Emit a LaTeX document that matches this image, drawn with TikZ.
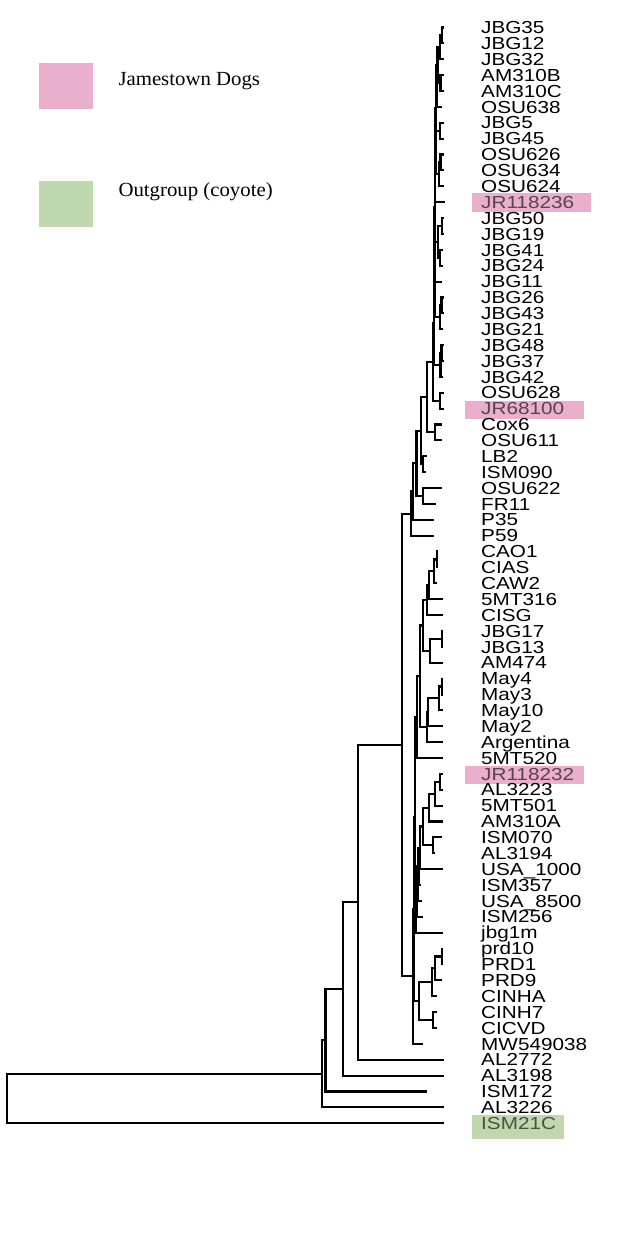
\documentclass[tikz,border=0pt]{standalone}
\usepackage{fontspec}
\newfontfamily\tipfont[FakeStretch=1.19]{Liberation Sans}
\newfontfamily\keyfont[FakeStretch=1.04]{Liberation Serif}
\usetikzlibrary{positioning, calc}

\definecolor{jpink}{RGB}{233,175,204}
\definecolor{jgreen}{RGB}{191,216,176}
\colorlet{jpinktxt}{black!62!jpink}
\colorlet{jgreentxt}{black!62!jgreen}

% join two children at a parent placed at x = #2
\newcommand{\clade}[4]{%
  \coordinate (tmp) at ($(#3)!0.5!(#4)$);
  \coordinate (#1) at (#2,0 |- tmp);
  \draw[branch] (#3) -| (#1) |- (#4);
}

\begin{document}
\begin{tikzpicture}[
    x=1pt, y=-1pt,
    branch/.style={line width=2.1pt, black},
    tiplab/.style={font=\tipfont\fontsize{17.4}{17.4}\selectfont, anchor=base west, inner sep=0pt},
    keytext/.style={font=\keyfont\fontsize{20}{20}\selectfont, anchor=base west, inner sep=0pt},
    keybox/.style={rectangle, minimum width=54pt, minimum height=46pt, inner sep=0pt},
    hlbox/.style={rectangle, inner sep=0pt}
  ]
  \fill[white] (0,0) rectangle (626,1236);
  \useasboundingbox (0,0) rectangle (626,1236);

  % Legend
  \node[keybox, fill=jpink] (dogkey) at (66,86) {};
  \node[keybox, fill=jgreen, below=72pt of dogkey] (coykey) {};
  \node[keytext] (dogtxt) at (118.3,85.7) {Jamestown Dogs};
  \node[keytext] (coytxt) at (118.3,196.7) {Outgroup (coyote)};

  % Highlighted tips
  \node[hlbox, fill=jpink, minimum width=119pt, minimum height=19pt] (hl12) at (531.5,202.5) {};
  \node[hlbox, fill=jpink, minimum width=119pt, minimum height=18pt] (hl25) at (524.5,410.3) {};
  \node[hlbox, fill=jpink, minimum width=119pt, minimum height=18pt] (hl48) at (524.5,775) {};
  \node[hlbox, fill=jgreen, minimum width=92pt, minimum height=24pt] (hl70) at (518,1127) {};

  % Tips and labels
  \foreach \lab/\tx [count=\i] in {
      JBG35/443.5, JBG12/443.5, JBG32/443.5, AM310B/443.5, AM310C/443.5,
      OSU638/442, JBG5/443.5, JBG45/443.5, OSU626/443.5, OSU634/443.5,
      OSU624/443.5, {\color{jpinktxt}JR118236}/445, JBG50/443.5, JBG19/443.5, JBG41/443,
      JBG24/443, JBG11/442, JBG26/443.5, JBG43/443.5, JBG21/442.5,
      JBG48/443.5, JBG37/443.5, JBG42/443, OSU628/443.5, {\color{jpinktxt}JR68100}/443.5,
      Cox6/442, OSU611/442, LB2/426.5, ISM090/425.5, OSU622/442,
      FR11/436, P35/434, P59/434, CAO1/437.5, CIAS/437.5,
      CAW2/437, 5MT316/443.3, CISG/443.3, JBG17/443.3, JBG13/443.3,
      AM474/443.3, May4/443.3, May3/443.3, May10/443.3, May2/443.3,
      Argentina/443.3, 5MT520/443.3, {\color{jpinktxt}JR118232}/443.3, AL3223/443.3, 5MT501/443.3,
      AM310A/443.3, ISM070/442, AL3194/435, USA\_1000/443.3, ISM357/421,
      USA\_8500/421.5, ISM256/423, jbg1m/443.3, prd10/443, PRD1/443,
      PRD9/441.7, CINHA/436.7, CINH7/437, CICVD/437, MW549038/422.7,
      AL2772/444, AL3198/444, ISM172/427, AL3226/444, {\color{jgreentxt}ISM21C}/444}
  {
    \pgfmathsetmacro{\ty}{27.5+(\i-1)*15.88}
    \coordinate (t\i) at (\tx,\ty);
    \node[tiplab] (l\i) at (481,\ty+6.2) {\lab};
  }

  % Upper clade
  \clade{c1}{441.7}{t1}{t2}
  \clade{c2}{440}{c1}{t3}
  \clade{c3}{440.5}{t4}{t5}
  \clade{u1}{437.5}{c2}{c3}
  \clade{u2}{436.5}{u1}{t6}
  \clade{c6}{440}{t7}{t8}
  \clade{u3}{436}{u2}{c6}
  \clade{c8}{440.5}{t9}{t10}
  \clade{c9}{439}{c8}{t11}
  \clade{u4}{435.5}{u3}{c9}
  \clade{u5}{435}{u4}{t12}
  \clade{c12}{441.7}{t13}{t14}
  \clade{c13}{440}{t15}{t16}
  \clade{c14}{438}{c12}{c13}
  \clade{u6}{435}{u5}{c14}
  \clade{u7}{434.5}{u6}{t17}
  \clade{c16}{441.5}{t18}{t19}
  \clade{c17}{440}{c16}{t20}
  \clade{u8}{434.5}{u7}{c17}
  \clade{c18}{441.5}{t21}{t22}
  \clade{c19}{440.5}{c18}{t23}
  \clade{u9}{434}{u8}{c19}
  \clade{c23}{440}{t24}{t25}
  \clade{upper}{433.3}{u9}{c23}
  \clade{cox}{435}{t26}{t27}
  \clade{v1}{427.3}{upper}{cox}
  \clade{lb}{423.3}{t28}{t29}
  \clade{v2}{421}{v1}{lb}
  \clade{fr}{423.3}{t30}{t31}
  \clade{v3}{416.5}{v2}{fr}
  \clade{v4}{413.3}{v3}{t32}
  \clade{dogs}{410.7}{v4}{t33}

  % Middle clade
  \clade{m1}{436.7}{t34}{t35}
  \clade{m2}{434}{m1}{t36}
  \clade{m3}{429.3}{m2}{t37}
  \clade{m4}{426.7}{m3}{t38}
  \clade{m5}{441.7}{t39}{t40}
  \clade{m6}{430}{m5}{t41}
  \clade{m7}{422.7}{m4}{m6}
  \clade{a1}{441.7}{t42}{t43}
  \clade{a2}{439.3}{a1}{t44}
  \clade{a3}{428.3}{a2}{t45}
  \clade{a4}{426.7}{a3}{t46}
  \clade{m8}{420}{m7}{a4}
  \clade{mid}{416.7}{m8}{t47}

  % Lower clade
  \clade{b1}{440}{t48}{t49}
  \clade{b2}{435}{b1}{t50}
  \clade{b3}{429.3}{b2}{t51}
  \clade{b4}{432.7}{t52}{t53}
  \clade{b5}{423.3}{b3}{b4}
  \clade{b6}{420}{b5}{t54}
  \clade{b7}{418.5}{b6}{t55}
  \clade{b8}{417.5}{b7}{t56}
  \clade{b9}{416.5}{b8}{t57}
  \clade{low}{416}{b9}{t58}
  \clade{x}{415}{mid}{low}
  \clade{p1}{441.7}{t59}{t60}
  \clade{p2}{435}{p1}{t61}
  \clade{p3}{431.7}{p2}{t62}
  \clade{p4}{432.7}{t63}{t64}
  \clade{prd}{419.3}{p3}{p4}
  \clade{h}{414}{x}{prd}
  \clade{g}{413}{h}{t65}

  % Backbone
  \clade{e}{401.7}{dogs}{g}
  \clade{d}{358}{e}{t66}
  \clade{c}{343}{d}{t67}
  \clade{b}{325.5}{c}{t68}
  \clade{a}{322}{b}{t69}
  \clade{root}{7.3}{a}{t70}
\end{tikzpicture}
\end{document}
